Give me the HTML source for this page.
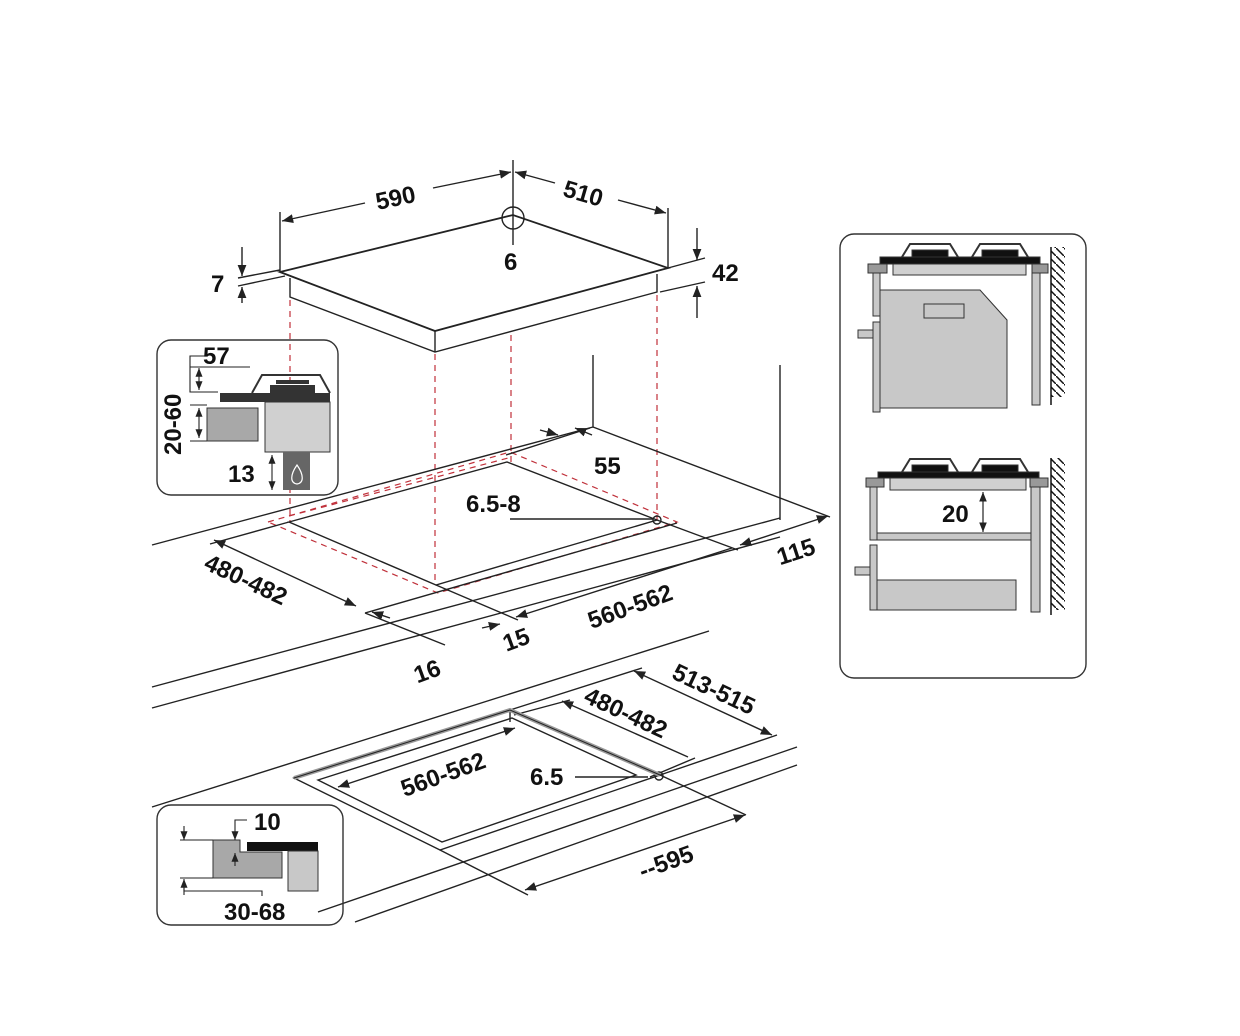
<!DOCTYPE html>
<html><head><meta charset="utf-8"><style>
html,body{margin:0;padding:0;background:#fff}
svg{display:block}
text{font-family:"Liberation Sans",sans-serif;font-weight:bold;font-size:24px;fill:#111}
</style></head><body>
<svg width="1240" height="1036" viewBox="0 0 1240 1036" xmlns="http://www.w3.org/2000/svg">
<defs>
<marker id="a" viewBox="0 0 10 10" refX="10" refY="5" markerWidth="8" markerHeight="8" orient="auto-start-reverse"><path d="M0,1 L10,5 L0,9 z" fill="#222"/></marker>
<pattern id="h" width="8" height="8" patternUnits="userSpaceOnUse"><path d="M0,0 L8,8" stroke="#111" stroke-width="1.5"/></pattern>
</defs>
<g stroke="#222" stroke-width="1.4" fill="none">
<path d="M280,272 L513,215 L668,268 L435,331 Z" stroke-width="1.8"/>
<path d="M290,278 L290,297 L435,352 L657,292 L657,274" />
<path d="M435,331 L435,352"/>
<line x1="513" y1="160" x2="513" y2="245"/>
<circle cx="513" cy="218" r="11"/>
<line x1="280" y1="272" x2="280" y2="212"/>
<line x1="668" y1="268" x2="668" y2="208"/>
<line x1="282" y1="221" x2="365" y2="203" marker-start="url(#a)"/>
<line x1="433" y1="188" x2="511" y2="172" marker-end="url(#a)"/>
<line x1="515" y1="172" x2="555" y2="183" marker-start="url(#a)"/>
<line x1="618" y1="200" x2="666" y2="213" marker-end="url(#a)"/>
<line x1="238" y1="278" x2="280" y2="270"/><line x1="238" y1="286" x2="285" y2="276"/>
<line x1="242" y1="247" x2="242" y2="276" marker-end="url(#a)"/>
<line x1="242" y1="303" x2="242" y2="287" marker-end="url(#a)"/>
<line x1="668" y1="268" x2="705" y2="258"/><line x1="660" y1="292" x2="705" y2="282"/>
<line x1="697" y1="228" x2="697" y2="260" marker-end="url(#a)"/>
<line x1="697" y1="318" x2="697" y2="286" marker-end="url(#a)"/>
</g>
<g stroke="#c0303a" stroke-width="1.2" stroke-dasharray="6,5" fill="none">
<line x1="290" y1="300" x2="290" y2="522"/>
<line x1="435" y1="354" x2="435" y2="585"/>
<line x1="511" y1="335" x2="511" y2="462"/>
<line x1="657" y1="295" x2="657" y2="520"/>
<path d="M268,522 L510,452 L677,522 L438,593 Z"/>
<path d="M289,516 L512,457"/>
</g>
<g stroke="#222" stroke-width="1.4" fill="none">
<!-- upper counter -->
<line x1="152" y1="545" x2="593" y2="427"/>
<line x1="593" y1="427" x2="830" y2="517"/>
<line x1="593" y1="355" x2="593" y2="427"/>
<line x1="780" y1="365" x2="780" y2="520"/>
<line x1="152" y1="687" x2="780" y2="518"/>
<line x1="152" y1="708" x2="780" y2="537"/>
<path d="M289,522 L507,462 L657,520 L436,585 Z"/>
<line x1="365" y1="613" x2="677" y2="523"/>
<line x1="289" y1="522" x2="210" y2="544"/>
<line x1="214" y1="540" x2="356" y2="606" marker-start="url(#a)" marker-end="url(#a)"/>
<line x1="365" y1="613" x2="445" y2="645"/>
<line x1="372" y1="612" x2="390" y2="618" marker-start="url(#a)"/>
<line x1="436" y1="585" x2="518" y2="620"/>
<line x1="482" y1="628" x2="500" y2="624" marker-end="url(#a)"/>
<line x1="516" y1="617" x2="732" y2="548" marker-start="url(#a)"/>
<line x1="657" y1="520" x2="738" y2="550"/>
<line x1="740" y1="545" x2="828" y2="516" marker-start="url(#a)" marker-end="url(#a)"/>
<line x1="540" y1="430" x2="558" y2="435" marker-end="url(#a)"/>
<line x1="506" y1="455" x2="590" y2="428"/>
<line x1="575" y1="428" x2="592" y2="435" marker-start="url(#a)"/>
<circle cx="657" cy="520" r="4"/>
<line x1="510" y1="519" x2="653" y2="519"/>
<!-- lower counter -->
<line x1="152" y1="807" x2="709" y2="631"/>
<line x1="318" y1="912" x2="797" y2="747"/>
<line x1="355" y1="922" x2="797" y2="765"/>
<path d="M294,778 L510,710 L660,775 L440,850 Z"/>
<path d="M318,780 L512,718 L636,775 L442,842 Z"/>
<line x1="510" y1="711" x2="510" y2="722"/>
<line x1="510" y1="710" x2="642" y2="668"/>
<line x1="514" y1="715" x2="570" y2="700"/>
<line x1="634" y1="671" x2="772" y2="735" marker-start="url(#a)" marker-end="url(#a)"/>
<line x1="660" y1="775" x2="777" y2="735"/>
<line x1="562" y1="701" x2="688" y2="757" marker-start="url(#a)"/>
<line x1="650" y1="777" x2="695" y2="758"/>
<line x1="338" y1="787" x2="515" y2="728" marker-start="url(#a)" marker-end="url(#a)"/>
<line x1="440" y1="850" x2="528" y2="895"/>
<line x1="660" y1="775" x2="746" y2="815"/>
<line x1="525" y1="890" x2="745" y2="815" marker-start="url(#a)" marker-end="url(#a)"/>
<line x1="575" y1="777" x2="648" y2="777"/>
<circle cx="659" cy="776" r="4"/>
</g>
<path d="M294,778 L510,710 L660,775" fill="none" stroke="#999" stroke-width="4"/>
<path d="M294,778 L510,710 L660,775" fill="none" stroke="#222" stroke-width="1"/>
<text x="375" y="205" transform="rotate(-12 400 195)">590</text>
<text x="563" y="203" transform="rotate(16 588 195)">510</text>
<text x="504" y="270">6</text>
<text x="211" y="292">7</text>
<text x="712" y="281">42</text>
<text x="594" y="474">55</text>
<text x="466" y="512">6.5-8</text>
<text x="200" y="590" transform="rotate(25 250 585)">480-482</text>
<text x="776" y="560" transform="rotate(-18 795 550)">115</text>
<text x="585" y="612" transform="rotate(-20 637 602)">560-562</text>
<text x="502" y="647" transform="rotate(-20 518 637)">15</text>
<text x="413" y="679" transform="rotate(-20 428 669)">16</text>
<text x="670" y="700" transform="rotate(25 720 690)">513-515</text>
<text x="582" y="724" transform="rotate(25 633 714)">480-482</text>
<text x="398" y="780" transform="rotate(-20 450 770)">560-562</text>
<text x="530" y="785">6.5</text>
<text x="637" y="868" transform="rotate(-20 672 858)">--595</text>
<rect x="157" y="340" width="181" height="155" rx="14" fill="none" stroke="#333" stroke-width="1.4"/>
<rect x="220" y="393" width="110" height="9" fill="#333"/>
<path d="M252,393 L262,375 L320,375 L330,393" fill="none" stroke="#333" stroke-width="2"/>
<rect x="270" y="385" width="45" height="8" fill="#333"/><rect x="276" y="380" width="33" height="4" fill="#333"/>
<rect x="265" y="402" width="65" height="50" fill="#d0d0d0" stroke="#333"/>
<rect x="207" y="408" width="51" height="33" fill="#a8a8a8" stroke="#333"/>
<rect x="283" y="452" width="27" height="38" fill="#666"/>
<path d="M297,465 C290,475 290,483 297,484 C304,483 304,475 297,465 Z" fill="none" stroke="#fff" stroke-width="1.2"/>
<g stroke="#222" stroke-width="1.1" fill="none">
<path d="M205,356 L190,356 L190,392 L218,392"/><line x1="190" y1="367" x2="250" y2="367"/>
<line x1="190" y1="405" x2="207" y2="405"/><line x1="190" y1="441" x2="207" y2="441"/>
<line x1="199" y1="368" x2="199" y2="390" marker-start="url(#a)" marker-end="url(#a)"/>
<line x1="199" y1="408" x2="199" y2="438" marker-start="url(#a)" marker-end="url(#a)"/>
<line x1="272" y1="455" x2="272" y2="490" marker-start="url(#a)" marker-end="url(#a)"/>
</g>
<text x="203" y="364">57</text>
<text x="228" y="482">13</text>
<text x="140" y="432" transform="rotate(-90 172 423)">20-60</text>
<rect x="157" y="805" width="186" height="120" rx="14" fill="none" stroke="#333" stroke-width="1.4"/>
<path d="M213,840 L240,840 L240,852 L282,852 L282,878 L213,878 Z" fill="#a8a8a8" stroke="#333"/>
<rect x="247" y="842" width="71" height="9" fill="#111"/>
<rect x="288" y="851" width="30" height="40" fill="#c8c8c8" stroke="#333"/>
<g stroke="#222" stroke-width="1.1" fill="none">
<line x1="180" y1="840" x2="213" y2="840"/><line x1="180" y1="878" x2="213" y2="878"/>
<line x1="184" y1="826" x2="184" y2="840" marker-end="url(#a)"/>
<line x1="184" y1="895" x2="184" y2="879" marker-end="url(#a)"/>
<path d="M184,880 L184,891 L262,891 L262,896"/>
<path d="M247,820 L235,820 L235,840" marker-end="url(#a)"/>
<line x1="235" y1="866" x2="235" y2="853" marker-end="url(#a)"/>
</g>
<text x="254" y="830">10</text>
<text x="224" y="920">30-68</text>
<rect x="840" y="234" width="246" height="444" rx="14" fill="none" stroke="#333" stroke-width="1.4"/>
<g stroke="#333" stroke-width="1">
<rect x="880" y="257" width="160" height="7" fill="#111"/>
<path d="M902,257 L910,244 L950,244 L958,257" fill="none" stroke-width="2"/>
<rect x="912" y="250" width="36" height="7" fill="#111"/>
<path d="M972,257 L980,244 L1020,244 L1028,257" fill="none" stroke-width="2"/>
<rect x="982" y="250" width="36" height="7" fill="#111"/>
<rect x="893" y="264" width="133" height="11" fill="#d0d0d0"/>
<rect x="868" y="264" width="19" height="9" fill="#999"/>
<rect x="1032" y="264" width="16" height="9" fill="#999"/>
<rect x="873" y="273" width="7" height="43" fill="#c8c8c8"/>
<rect x="873" y="322" width="7" height="90" fill="#c8c8c8"/>
<rect x="858" y="330" width="15" height="8" fill="#c8c8c8"/>
<path d="M880,290 L980,290 L1007,320 L1007,408 L880,408 Z" fill="#c8c8c8"/>
<rect x="924" y="304" width="40" height="14" fill="#c8c8c8"/>
<rect x="1032" y="273" width="8" height="132" fill="#c8c8c8"/>
<rect x="878" y="472" width="161" height="6" fill="#111"/>
<path d="M902,472 L910,459 L950,459 L958,472" fill="none" stroke-width="2"/>
<rect x="912" y="465" width="36" height="7" fill="#111"/>
<path d="M972,472 L980,459 L1020,459 L1028,472" fill="none" stroke-width="2"/>
<rect x="982" y="465" width="36" height="7" fill="#111"/>
<rect x="890" y="478" width="136" height="12" fill="#d0d0d0"/>
<rect x="866" y="478" width="18" height="9" fill="#999"/>
<rect x="1030" y="478" width="18" height="9" fill="#999"/>
<rect x="870" y="487" width="7" height="53" fill="#c8c8c8"/>
<rect x="870" y="545" width="7" height="65" fill="#c8c8c8"/>
<rect x="877" y="533" width="154" height="7" fill="#c8c8c8"/>
<rect x="1031" y="487" width="9" height="125" fill="#c8c8c8"/>
<rect x="855" y="567" width="15" height="8" fill="#c8c8c8"/>
<rect x="877" y="580" width="139" height="30" fill="#c8c8c8"/>
</g>
<rect x="1051" y="247" width="14" height="150" fill="url(#h)"/>
<line x1="1051" y1="247" x2="1051" y2="405" stroke="#111" stroke-width="1.5"/>
<rect x="1051" y="458" width="14" height="152" fill="url(#h)"/>
<line x1="1051" y1="458" x2="1051" y2="615" stroke="#111" stroke-width="1.5"/>
<line x1="983" y1="492" x2="983" y2="532" stroke="#222" stroke-width="1.2" marker-start="url(#a)" marker-end="url(#a)"/>
<text x="942" y="522">20</text>
</svg>
</body></html>
